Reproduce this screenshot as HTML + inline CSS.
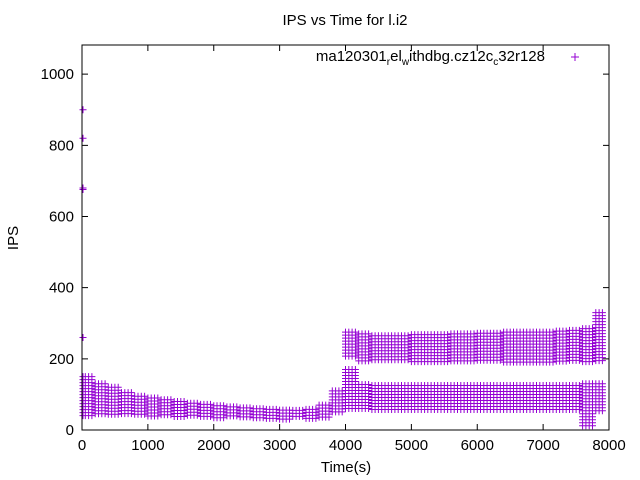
<!DOCTYPE html>
<html><head><meta charset="utf-8"><style>
body{margin:0;background:#fff;}
svg{display:block;font-family:"Liberation Sans",sans-serif;}
</style></head><body>
<svg id="chart" width="640" height="480" viewBox="0 0 640 480" xmlns="http://www.w3.org/2000/svg">
<rect width="640" height="480" fill="#fff"/>
<text x="345" y="25" font-size="15" text-anchor="middle">IPS vs Time for l.i2</text>
<text transform="translate(18,238) rotate(-90)" font-size="15" text-anchor="middle">IPS</text>
<text x="346" y="472" font-size="15" text-anchor="middle">Time(s)</text>
<g id="ticks"></g>
<g id="points" fill="none" stroke="#9400d3" stroke-width="1"></g>
<rect x="82" y="45" width="527" height="385" fill="none" stroke="#000" stroke-width="1"/>
<g>
<text x="545" y="61" font-size="15" text-anchor="end">ma120301<tspan font-size="10" dy="4">r</tspan><tspan dy="-4">el</tspan><tspan font-size="10" dy="4">w</tspan><tspan dy="-4">ithdbg.cz12c</tspan><tspan font-size="10" dy="4">c</tspan><tspan dy="-4">32r128</tspan></text>
<path d="M571 57h8M575 53v8" stroke="#9400d3" stroke-width="1"/>
</g>
</svg>
<script>
const xTicks=[0,1000,2000,3000,4000,5000,6000,7000,8000];
const yTicks=[0,200,400,600,800,1000];
const binTimes=[0,200,400,600,800,1000,1200,1400,1600,1800,2000,2200,2400,2600,2800,3000,3200,3400,3600,3800,4000,4200,4400,4600,4800,5000,5200,5400,5600,5800,6000,6200,6400,6600,6800,7000,7200,7400,7600,7800];
const lowMin=[40,40,40,38,38,38,36,35,35,34,33,32,32,31,30,30,30,30,32,45,55,55,55,55,55,55,55,55,55,55,55,55,55,55,55,55,55,55,5,50];
const lowMax=[150,130,120,105,95,90,85,80,75,72,68,65,62,60,58,56,55,58,70,110,170,128,125,125,125,125,125,125,125,125,125,125,125,125,125,125,125,125,130,130];
const hiMin=[0,0,0,0,0,0,0,0,0,0,0,0,0,0,0,0,0,0,0,0,200,190,190,190,190,190,190,190,190,190,190,190,190,190,190,190,190,190,190,195];
const hiMax=[0,0,0,0,0,0,0,0,0,0,0,0,0,0,0,0,0,0,0,0,275,270,265,265,265,268,268,268,270,270,272,272,275,275,275,275,278,280,285,330];
const outT=[0,0,0,0,0];
const outV=[900,820,680,676,260];
const tMax=7920;
const X=t=>82+t*527/8000;
const Y=v=>430-v*385/1082;
const NS='http://www.w3.org/2000/svg';
const tk=document.getElementById('ticks');
function txt(x,y,s,anchor,name){const e=document.createElementNS(NS,'text');e.setAttribute('x',x);e.setAttribute('y',y);e.setAttribute('font-size','15');e.setAttribute('text-anchor',anchor);e.textContent=s;


tk.appendChild(e);}
let d='';
xTicks.forEach(t=>{const x=X(t);d+=`M${x} 430v-6M${x} 45v6`;txt(x,450,t,'middle','x-tick-label');});
yTicks.forEach(v=>{const y=Y(v);d+=`M82 ${y}h6M609 ${y}h-6`;txt(74,y+5,v,'end','y-tick-label');});
const tp=document.createElementNS(NS,'path');tp.setAttribute('d',d);tp.setAttribute('stroke','#000');


tk.appendChild(tp);
let p='';
function plus(x,y){p+=`M${(x-3.5).toFixed(1)} ${y.toFixed(1)}h7M${x.toFixed(1)} ${(y-3.5).toFixed(1)}v7`;}
function band(x,a,b){const y1=Y(b),y0=Y(a);for(let y=y1;y<=y0;y+=3)plus(x,y);}
binTimes.forEach((t,i)=>{
  for(let k=0;k<4;k++){const tt=t+k*50;if(tt>tMax)break;const x=X(tt)+(tt===0?1:0);
    band(x,lowMin[i],lowMax[i]);
    if(hiMax[i]>0)band(x,hiMin[i],hiMax[i]);}
});
outT.forEach((t,i)=>plus(X(t)+1,Y(outV[i])));
const pts=document.getElementById('points');const pe=document.createElementNS(NS,'path');pe.setAttribute('d',p);


pts.appendChild(pe);
</script>
</body></html>
